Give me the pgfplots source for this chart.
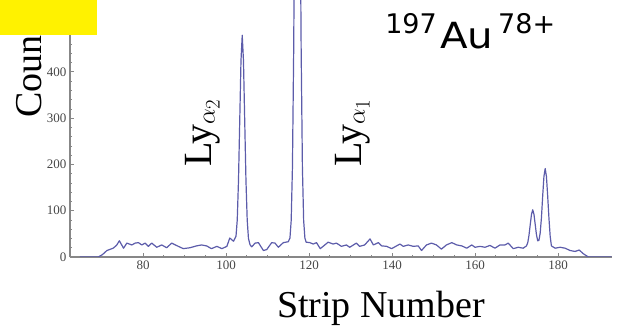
\documentclass[border=0pt]{standalone}
\usepackage{pgfplots}
\pgfplotsset{compat=1.18}
\usepackage{fontspec}
\setmainfont{Liberation Serif}
\newfontfamily\comicfont{DejaVu Sans}
\definecolor{specline}{RGB}{92,92,170}
\definecolor{axgray}{RGB}{135,135,135}
\definecolor{ticktext}{RGB}{70,70,70}
\begin{document}
\begin{tikzpicture}
\path[use as bounding box] (0pt,0pt) rectangle (625pt,326pt);
\begin{axis}[at={(70pt,69pt)}, anchor=south west, scale only axis,
  width=542pt, height=257pt,
  xmin=62.4, xmax=193, ymin=0, ymax=555,
  axis lines*=left,
  axis line style={axgray, line width=1.1pt},
  xtick={80,100,...,180}, ytick={0,100,...,500},
  minor x tick num=3, minor y tick num=4,
  tick align=inside, major tick length=4pt, minor tick length=2pt,
  tick style={axgray, line width=0.6pt},
  tick label style={font=\fontsize{13}{15}\selectfont, text=ticktext},
  /pgf/number format/assume math mode=true,
  clip=true]
\addplot[specline, line width=1.2pt, line join=round] coordinates {
(64.8,0) (69.2,0) (70.2,5) (71.3,14) (72.8,19) (73.6,25) (74.3,35) (75.3,19)
(76.1,30) (77.3,26) (78.1,30) (78.9,31) (79.7,26) (80.5,30) (81.3,23) (82.1,30)
(83.3,21) (84.5,26) (85.7,20) (86.9,30) (88.5,23) (89.7,18) (91.3,20) (92.9,24)
(94.1,26) (95.3,24) (96.5,18) (97.8,23) (99.0,18) (100.2,23) (100.9,41) (101.8,34)
(102.4,45) (102.7,80) (103.0,165) (103.3,294) (103.6,424) (103.9,479) (104.2,424)
(104.5,294) (104.8,165) (105.1,80) (105.4,40) (105.8,26) (106.2,22) (107.0,30)
(107.8,31) (109.0,14) (109.8,16) (111.0,31) (111.8,30) (112.6,21) (113.8,31)
(115.0,33) (115.4,41) (115.7,79) (116.0,194) (116.3,447) (116.6,845) (116.9,1246)
(117.2,1420) (117.5,1246) (117.8,845) (118.1,447) (118.4,194) (118.7,79) (119.0,41)
(119.3,32) (120.2,31) (121.0,28) (121.8,31) (122.7,18) (123.4,23) (124.6,32)
(125.8,28) (126.6,30) (127.8,23) (129.0,26) (129.8,21) (131.4,30) (132.2,23)
(133.4,26) (134.7,39) (135.5,26) (136.7,31) (137.5,24) (138.7,23) (139.9,18)
(141.1,24) (141.9,28) (142.7,23) (143.9,26) (145.1,23) (146.3,24) (147.1,14)
(148.3,26) (149.5,30) (150.7,26) (151.9,17) (153.1,26) (154.4,31) (155.6,26)
(156.8,24) (158.0,19) (159.2,26) (160.0,21) (161.2,23) (162.4,21) (163.6,25)
(164.8,19) (166.0,26) (167.2,26) (168.0,30) (169.2,18) (170.4,21) (171.6,19)
(172.4,24) (172.7,31) (173.0,47) (173.3,70) (173.6,92) (173.9,102) (174.2,92)
(174.5,70) (174.8,48) (175.1,35) (175.4,36) (175.7,52) (176.0,85) (176.3,132)
(176.6,174) (176.9,191) (177.2,174) (177.5,132) (177.8,85) (178.1,45) (178.4,24)
(179.3,19) (180.5,21) (181.7,19) (182.9,14) (184.1,12) (185.1,15) (186.1,7)
(187.3,0) (192.9,0)
};
\end{axis}
% axis titles and annotations
\node[anchor=base, font=\fontsize{38}{40}\selectfont, inner sep=0pt] at (381pt,8pt) {Strip Number};
\node[rotate=90, anchor=base west, font=\fontsize{38}{40}\selectfont, inner sep=0pt] at (41.5pt,208pt) {Counts};
\node[rotate=90, anchor=base west, font=\fontsize{40}{42}\selectfont, inner sep=0pt] at (211pt,159pt) {Ly$_{\alpha_2}$};
\node[rotate=90, anchor=base west, font=\fontsize{40}{42}\selectfont, inner sep=0pt] at (361pt,159pt) {Ly$_{\alpha_1}$};
\node[anchor=base east, font=\comicfont\fontsize{27}{29}\selectfont, inner sep=0pt] at (437pt,292pt) {197};
\node[anchor=base west, font=\comicfont\fontsize{36}{38}\selectfont, inner sep=0pt, xscale=1.12] at (440pt,277.5pt) {Au};
\node[anchor=base west, font=\comicfont\fontsize{27}{29}\selectfont, inner sep=0pt] at (498pt,292pt) {78+};
\fill[yellow] (0pt,291pt) rectangle (97pt,326pt);
\end{tikzpicture}
\end{document}
